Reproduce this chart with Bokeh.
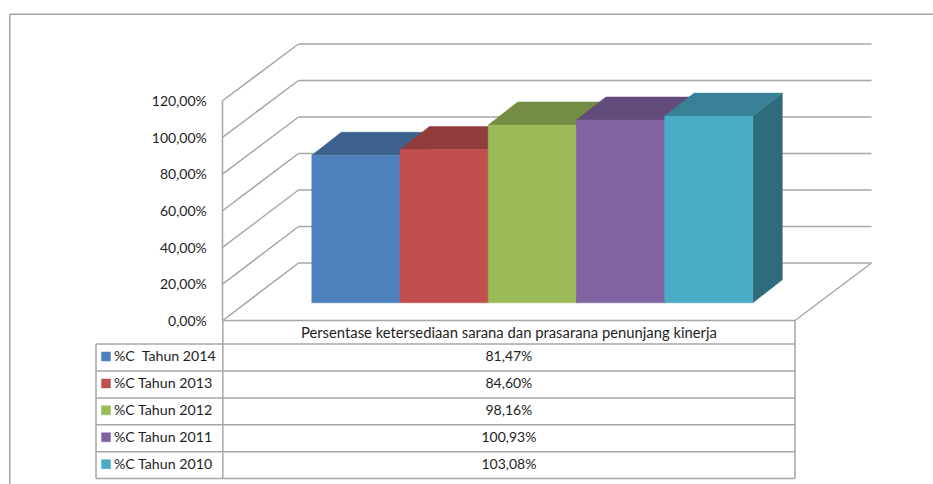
from bokeh.plotting import figure
from bokeh.models import Range1d, FixedTicker
from bokeh.embed import file_html
from bokeh.resources import INLINE
from bokeh.core.properties import value

# ---- data
series_names = ["%C \u00a0Tahun 2014", "%C Tahun 2013", "%C Tahun 2012", "%C Tahun 2011", "%C Tahun 2010"]
series_values = [81.47, 84.60, 98.16, 100.93, 103.08]
value_labels = ["81,47%", "84,60%", "98,16%", "100,93%", "103,08%"]
category = "Persentase ketersediaan sarana dan prasarana penunjang kinerja"
y_ticks = [0, 20, 40, 60, 80, 100, 120]
y_tick_labels = ["0,00%", "20,00%", "40,00%", "60,00%", "80,00%", "100,00%", "120,00%"]
front_colors = ["#4F81BD", "#C0504D", "#9BBB59", "#8064A2", "#4BACC6"]
top_colors = ["#3D618E", "#8F3C3A", "#748C43", "#604B7A", "#388095"]
side_colors = ["#2E4A6C", "#6E2E2C", "#586B33", "#49395D", "#2E6C7D"]

# ---- layout (page pixels)
GREY = "#A6A6A6"
TXT = "#1E1E1E"
FONT = value("Lato")
FS = "14px"
FX, FY0, FY120 = 222.3, 320.0, 100.0       # front left wall edge
BX, BY0, BY120 = 298.0, 262.5, 43.5        # back left wall edge
RX_FRONT, RX_BACK = 794.5, 871.0           # right ends
BAR_X0, BAR_W, BAR_BASE = 311.3, 88.2, 302.3
BAR_DX, BAR_DY, BAR_SCALE = 29.5, 23.0, 1.811
TAB_L = 95.5
ROWS = [343.5, 370.5, 397.5, 424.2, 451.3, 478.0]

W, H = 933, 484
per = (FY0 - FY120) / 120.0
p = figure(width=W, height=H, output_backend="svg", toolbar_location=None,
           x_range=Range1d(0, W),
           y_range=Range1d((FY0 - H) / per, FY0 / per),
           x_axis_location=None, min_border=0, outline_line_color=None)
p.extra_y_ranges = {"page": Range1d(H, 0)}
p.grid.visible = False
p.background_fill_color = "white"


def seg(x0, y0, x1, y1, width=1.5, color=GREY):
    p.segment(x0=[x0], y0=[y0], x1=[x1], y1=[y1], line_color=color, line_width=width,
              y_range_name="page")


def poly(xs, ys, color):
    p.patch(xs, ys, fill_color=color, line_color=color, line_width=0.5, y_range_name="page")


def label(x, y, s, align="left", size=FS):
    p.text(x=[x], y=[y], text=[s], text_font=FONT, text_font_size=size, text_color=TXT,
           text_align=align, text_baseline="middle", y_range_name="page")


# chart-area border
seg(9.3, 13.7, W, 13.7)
seg(9.3, 13.7, 9.3, H)

# walls
for v in y_ticks:
    yf = FY0 - (FY0 - FY120) * v / 120
    yb = BY0 - (BY0 - BY120) * v / 120
    seg(FX, yf, BX, yb)
    seg(BX, yb, RX_BACK, yb)

# floor
seg(FX, FY0, RX_FRONT, FY0)
seg(RX_FRONT, FY0, RX_BACK, BY0)

# bars, painted left to right
for i, v in enumerate(series_values):
    x0 = BAR_X0 + i * BAR_W
    x1 = x0 + BAR_W
    top = BAR_BASE - v * BAR_SCALE
    poly([x1, x1 + BAR_DX, x1 + BAR_DX, x1],
         [BAR_BASE, BAR_BASE - BAR_DY, top - BAR_DY, top], side_colors[i])
    poly([x0, x0 + BAR_DX, x1 + BAR_DX, x1],
         [top, top - BAR_DY, top - BAR_DY, top], top_colors[i])
    poly([x0, x1, x1, x0], [BAR_BASE, BAR_BASE, top, top], front_colors[i])

# data table
seg(FX, FY0, FX, ROWS[-1])
seg(RX_FRONT, FY0, RX_FRONT, ROWS[-1])
seg(TAB_L, ROWS[0], TAB_L, ROWS[-1])
for y in ROWS:
    seg(TAB_L, y, RX_FRONT, y)
mid = (FX + RX_FRONT) / 2
label(mid, (FY0 + ROWS[0]) / 2, category, "center", "14.8px")
for i, name in enumerate(series_names):
    yc = (ROWS[i] + ROWS[i + 1]) / 2
    sc = yc - 1
    poly([101, 110, 110, 101], [sc - 4.5, sc - 4.5, sc + 4.5, sc + 4.5], front_colors[i])
    label(113.5, yc - 2, name, "left", "14.2px")
    label(mid, yc - 2, value_labels[i], "center")

# value axis
ax = p.yaxis[0]
ax.fixed_location = FX
ax.bounds = (0, 120)
ax.ticker = FixedTicker(ticks=y_ticks)
ax.major_label_overrides = dict(zip(y_ticks, y_tick_labels))
ax.major_tick_line_color = None
ax.minor_tick_line_color = None
ax.axis_line_color = GREY
ax.axis_line_width = 1.5
ax.major_label_standoff = 10
ax.major_label_text_font = "Lato"
ax.major_label_text_font_size = FS
ax.major_label_text_color = TXT

open("out.html", "w").write(file_html(p, INLINE))
